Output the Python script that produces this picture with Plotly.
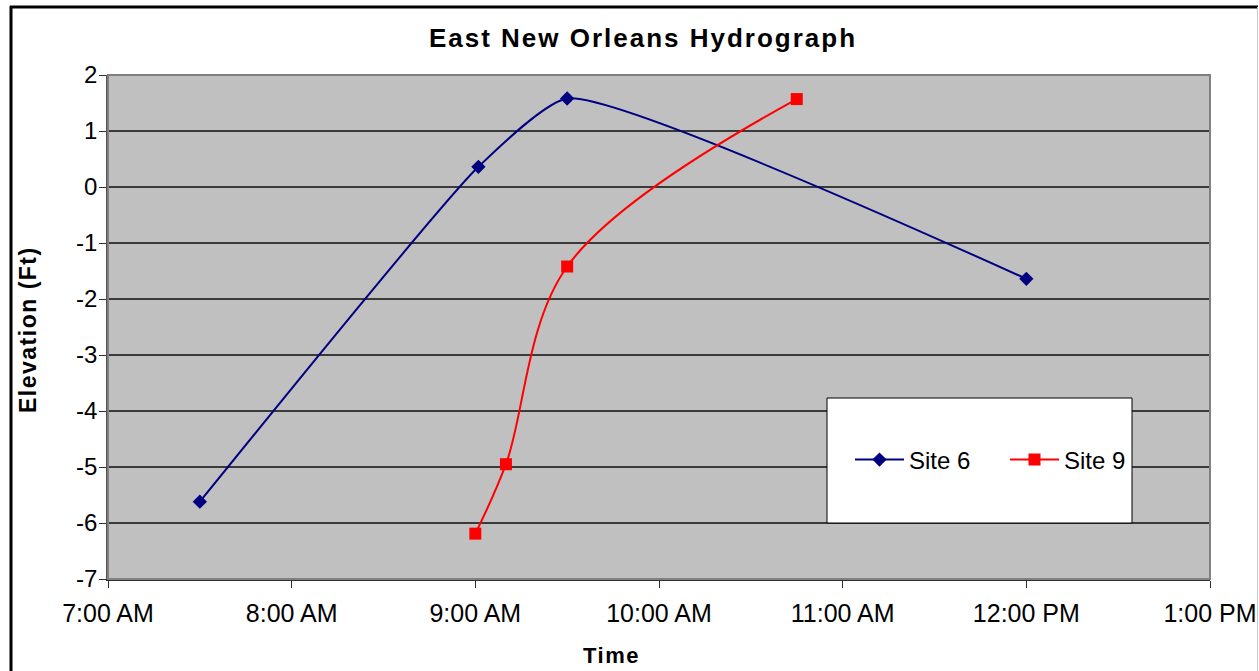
import plotly.graph_objects as go

# ---- data ----
site6_time = ["2005-08-29 07:30", "2005-08-29 09:01", "2005-08-29 09:30", "2005-08-29 12:00"]
site6_elev = [-5.62, 0.36, 1.58, -1.64]

site9_time = ["2005-08-29 09:00", "2005-08-29 09:10", "2005-08-29 09:30", "2005-08-29 10:45"]
site9_elev = [-6.19, -4.95, -1.42, 1.57]

x_range = ["2005-08-29 07:00", "2005-08-29 13:00"]
y_range = [-7, 2]
y_tickvals = [-7, -6, -5, -4, -3, -2, -1, 0, 1, 2]
y_ticktext = ["-7", "-6", "-5", "-4", "-3", "-2", "-1", "0", "1", "2"]

W, H = 1259, 671
L, R, T, B = 108, 49, 75, 92
PW, PH = W - L - R, H - T - B


def px(x):
    return (x - L) / PW


def py(y):
    return (H - B - y) / PH


FONT = "Liberation Sans, Arial, sans-serif"

fig = go.Figure()
fig.add_trace(go.Scatter(
    x=site6_time, y=site6_elev, name="Site 6", mode="lines+markers",
    line=dict(color="#000080", width=2, shape="spline", smoothing=0.5),
    marker=dict(symbol="diamond", size=11, color="#000080"),
))
fig.add_trace(go.Scatter(
    x=site9_time, y=site9_elev, name="Site 9", mode="lines+markers",
    line=dict(color="#FF0000", width=2, shape="spline", smoothing=1),
    marker=dict(symbol="square", size=12, color="#FF0000"),
))

shapes = [
    # plot area border
    dict(type="rect", xref="paper", yref="paper", x0=0, x1=1, y0=0, y1=1,
         line=dict(color="#808080", width=2), layer="above"),
    # legend box
    dict(type="rect", xref="paper", yref="paper", x0=px(827), x1=px(1132),
         y0=py(523), y1=py(398), fillcolor="white",
         line=dict(color="black", width=1), layer="above"),
    # chart frame
    dict(type="line", xref="paper", yref="paper", x0=px(11), x1=px(11),
         y0=py(6), y1=py(680), line=dict(color="black", width=3)),
    dict(type="line", xref="paper", yref="paper", x0=px(10), x1=px(1258),
         y0=py(7), y1=py(7), line=dict(color="black", width=3)),
    dict(type="line", xref="paper", yref="paper", x0=px(1257.5), x1=px(1257.5),
         y0=py(7), y1=py(680), line=dict(color="#c8c8c8", width=1)),
]

annotations = [
    dict(text='<span style="letter-spacing:1.5px">Time</span>', xref="paper", yref="paper",
         x=px(611), y=py(655), xanchor="center", yanchor="middle", showarrow=False,
         font=dict(family=FONT, size=22, color="black", weight="bold")),
    dict(text='<span style="letter-spacing:1.5px">Elevation (Ft)</span>', xref="paper", yref="paper",
         x=px(28), y=py(330), xanchor="center", yanchor="middle", showarrow=False,
         textangle=-90, font=dict(family=FONT, size=23, color="black", weight="bold")),
]

fig.update_layout(
    width=W, height=H,
    margin=dict(l=L, r=R, t=T, b=B, autoexpand=False),
    paper_bgcolor="white", plot_bgcolor="#C0C0C0",
    font=dict(family=FONT, size=24, color="black"),
    title=dict(text='<span style="letter-spacing:2px">East New Orleans Hydrograph</span>',
               x=643 / W, y=1 - 38 / H, xref="container", yref="container",
               xanchor="center", yanchor="middle",
               font=dict(family=FONT, size=26, color="black", weight="bold")),
    showlegend=True,
    legend=dict(orientation="h", x=px(850), y=py(460), xanchor="left", yanchor="middle",
                bgcolor="rgba(0,0,0,0)", borderwidth=0, entrywidth=91, itemwidth=49,
                font=dict(family=FONT, size=24, color="black")),
    shapes=shapes, annotations=annotations,
    xaxis=dict(type="date", range=x_range, dtick=3600000, tick0=x_range[0],
               tickformat="%-I:%M %p", showgrid=False, zeroline=False,
               showline=True, linecolor="#303030", linewidth=2,
               ticks="outside", ticklen=7, tickcolor="#303030", tickwidth=1,
               ticklabelstandoff=4,
               tickfont=dict(family=FONT, size=25, color="black")),
    yaxis=dict(range=y_range, tickmode="array", tickvals=y_tickvals, ticktext=y_ticktext,
               showgrid=True, gridcolor="#3a3a3a",
               gridwidth=1.5, zeroline=False,
               showline=True, linecolor="#505050", linewidth=1.5,
               ticks="outside", ticklen=7, tickcolor="#303030", tickwidth=1,
               ticklabelstandoff=-3,
               tickfont=dict(family=FONT, size=24, color="black")),
)

fig.write_html("out.html", config={"displayModeBar": False},
               post_script="document.body.style.margin='0';document.body.style.overflow='hidden';")
